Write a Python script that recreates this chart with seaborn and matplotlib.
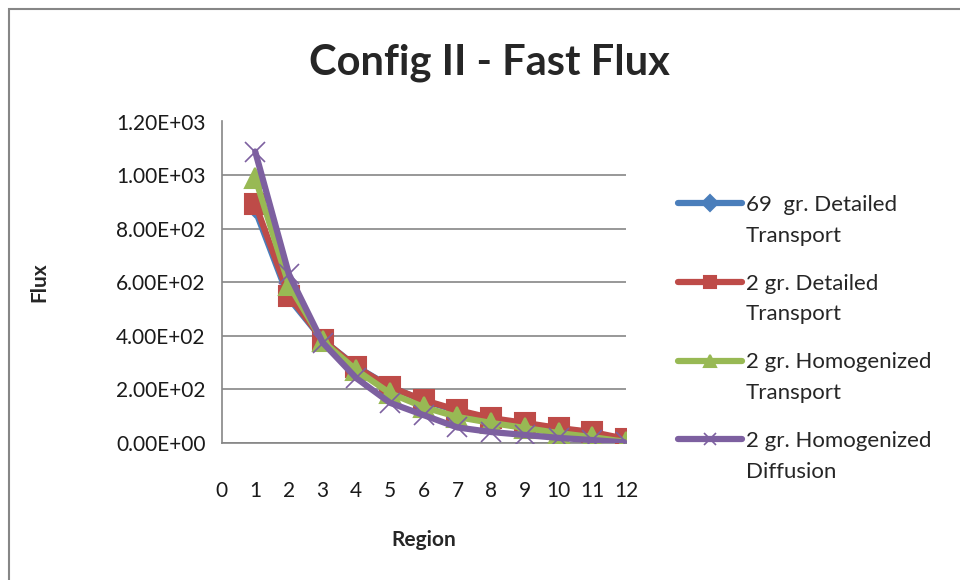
import matplotlib
matplotlib.use("Agg")
import matplotlib.pyplot as plt
import seaborn as sns
import pandas as pd
from matplotlib.patches import Rectangle
from matplotlib.ticker import FuncFormatter, MultipleLocator
from matplotlib.legend_handler import HandlerLine2D

regions = [1, 2, 3, 4, 5, 6, 7, 8, 9, 10, 11, 12]
det69 = [870, 540, 385, 285, 210, 158, 120, 90, 72, 54, 38, 12]
det2 = [893, 550, 385, 283, 209, 160, 123, 93, 75, 56, 41, 15]
hom_tr = [990, 590, 380, 272, 186, 134, 97, 75, 56, 37, 22, 4]
hom_diff = [1088, 630, 375, 242, 150, 104, 58, 41, 30, 19, 11, 2]

series_names = ["69  gr. Detailed\nTransport", "2 gr. Detailed\nTransport",
                "2 gr. Homogenized\nTransport", "2 gr. Homogenized\nDiffusion"]
series_vals = [det69, det2, hom_tr, hom_diff]
colors = ["#4a7ebb", "#be4b48", "#98b954", "#7d60a0"]
markers = ["D", "s", "^", "x"]
msizes = [7, 14, 14, 14]

rows = []
for name, vals in zip(series_names, series_vals):
    for r, v in zip(regions, vals):
        rows.append({"Region": r, "Flux": v, "Series": name})
df = pd.DataFrame(rows)

sns.set_style("white")
plt.rcParams["font.family"] = ["Lato", "DejaVu Sans"]


class TopHandler(HandlerLine2D):
    def __init__(self, shift, **kw):
        super().__init__(**kw)
        self.shift = shift

    def create_artists(self, legend, orig_handle, xdescent, ydescent, width,
                       height, fontsize, trans):
        arts = super().create_artists(legend, orig_handle, xdescent, ydescent,
                                      width, height, fontsize, trans)
        for a in arts:
            a.set_ydata([y + self.shift for y in a.get_ydata()])
        return arts


fig = plt.figure(figsize=(9.6, 5.8), dpi=100)
fig.patches.append(Rectangle((9 / 960, -0.05), 1.1, 1 - 9 / 580 + 0.05,
                             transform=fig.transFigure, fill=False,
                             edgecolor="#868686", linewidth=1.5))
ax = fig.add_axes([221.5 / 960, 1 - 443 / 580, (626 - 221.5) / 960, (443 - 121.5) / 580])

for i, name in enumerate(series_names):
    sub = df[df["Series"] == name]
    sns.lineplot(data=sub, x="Region", y="Flux", ax=ax, color=colors[i],
                 linewidth=4.5, marker=markers[i], markersize=msizes[i],
                 markeredgecolor=colors[i],
                 markeredgewidth=1.5 if markers[i] != "x" else 1.2,
                 label=name, zorder=3 + i)

ax.set_xlim(0, 12)
ax.set_ylim(0, 1200)
ax.xaxis.set_major_locator(MultipleLocator(1))
ax.yaxis.set_major_locator(MultipleLocator(200))
ax.yaxis.set_major_formatter(FuncFormatter(lambda v, p: f"{v:.2E}"))
ax.grid(axis="y", color="#868686", linewidth=1.2)
ax.grid(axis="x", visible=False)
for s in ["top", "right"]:
    ax.spines[s].set_visible(False)
for s in ["left", "bottom"]:
    ax.spines[s].set_color("#868686")
    ax.spines[s].set_linewidth(1.2)
ax.tick_params(axis="both", which="major", direction="out", length=7, width=1.2,
               color="#868686", labelsize=15, labelcolor="#1a1a1a")
ax.tick_params(axis="x", pad=20.5)
ax.tick_params(axis="y", pad=4.5)
ax.set_xlabel("Region", fontsize=15, fontweight="bold", labelpad=21)
ax.set_ylabel("Flux", fontsize=15, fontweight="bold", labelpad=48)
fig.text(489 / 960, 1 - 63 / 580, "Config II - Fast Flux", ha="center", va="center",
         fontsize=30, fontweight="bold")

handles, labels = ax.get_legend_handles_labels()
leg = ax.legend(handles, labels, loc="upper left",
                bbox_to_anchor=(669 / 960, 1 - 186 / 580),
                bbox_transform=fig.transFigure, frameon=False, fontsize=16,
                labelspacing=1.25, handlelength=2.9, handletextpad=0.15,
                borderaxespad=0,
                handler_map={h: TopHandler(shift=12.5) for h in handles})
for t in leg.get_texts():
    t.set_linespacing(1.68)
for h in leg.legend_handles:
    h.set_markersize(8)

fig.savefig("out.png", dpi=100)
